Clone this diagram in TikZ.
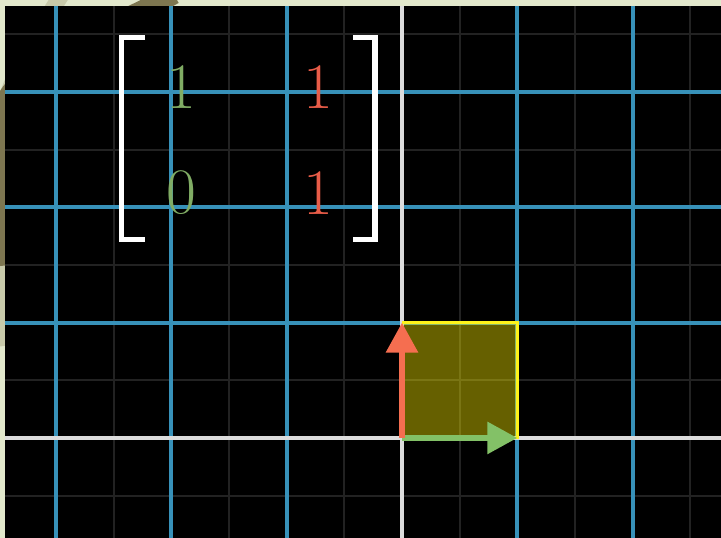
\documentclass[tikz,border=0pt]{standalone}
\usepackage{tikz}
\usetikzlibrary{arrows.meta}
\definecolor{slidebg}{RGB}{226,232,204}
\definecolor{olivedark}{RGB}{125,118,80}
\definecolor{olivelight}{RGB}{200,202,170}
\definecolor{gridblue}{RGB}{55,145,185}
\definecolor{gridgray}{RGB}{34,34,34}
\definecolor{axisgray}{RGB}{220,220,220}
\definecolor{vecgreen}{RGB}{131,193,103}
\definecolor{vecred}{RGB}{245,110,80}
\definecolor{entrygreen}{RGB}{128,172,100}
\definecolor{entryred}{RGB}{232,92,72}

\begin{document}
\begin{tikzpicture}[
    gridmajor/.style={line width=1pt, draw=gridblue},
    gridminor/.style={line width=0.5pt, draw=gridgray},
    axisline/.style={line width=1.2pt, draw=axisgray},
    vec/.style={line width=1.4pt, -{Triangle[length=0.26cm, width=0.27cm]}},
    entry/.style={font=\fontsize{16}{18}\selectfont, inner sep=0pt},
    bracket/.style={line width=1.3pt, draw=white}
]
    \useasboundingbox (-3.487,-0.867) rectangle (2.767,3.799);

    % slide background with its curves
    \fill[slidebg] (-3.487,-0.867) rectangle (2.767,3.799);
    \draw[olivelight, line width=4pt] (-2.95,3.85) .. controls (-3.3,3.3) and (-3.6,2.8) .. (-3.47,2.3)
        .. controls (-3.4,1.7) and (-3.5,1.2) .. (-3.44,0.8);
    \draw[olivedark, line width=5pt] (-1.98,3.85) .. controls (-2.6,3.5) and (-3.6,3.2) .. (-3.49,2.6)
        .. controls (-3.46,2.2) and (-3.44,1.9) .. (-3.40,1.5);

    % black plane
    \fill[black] (-3.443,-0.867) rectangle (2.767,3.747);

    \begin{scope}
        \clip (-3.443,-0.867) rectangle (2.767,3.747);
        % half-unit lines
        \foreach \x in {-2.5,-1.5,-0.5,0.5,1.5,2.5}
            \draw[gridminor] (\x,-0.867) -- (\x,3.747);
        \foreach \y in {-0.5,0.5,1.5,2.5,3.5}
            \draw[gridminor] (-3.443,\y) -- (2.767,\y);
        % unit lines
        \foreach \x in {-3,-2,-1,1,2}
            \draw[gridmajor] (\x,-0.867) -- (\x,3.747);
        \foreach \y in {1,2,3}
            \draw[gridmajor] (-3.443,\y) -- (2.767,\y);
        % axes
        \draw[axisline] (0,-0.867) -- (0,3.747);
        \draw[axisline] (-3.443,0) -- (2.767,0);
    \end{scope}

    % unit square
    \fill[yellow, fill opacity=0.4] (0,0) rectangle (1,1);
    \draw[yellow!90!white, line width=0.6pt] (0,0) -- (1,0) -- (1,1) -- (0,1);

    % basis vectors
    \coordinate (o) at (0,0);
    \coordinate (ihat) at (1,0);
    \coordinate (jhat) at (0,1);
    \draw[vec, vecgreen] (o) -- (ihat);
    \draw[vec, vecred] (o) -- (jhat);

    % matrix
    \node[entry, text=entrygreen] (a11) at (-1.912,3.04) {1};
    \node[entry, text=entryred] (a12) at (-0.724,3.04) {1};
    \node[entry, text=entrygreen] (a21) at (-1.912,2.125) {0};
    \node[entry, text=entryred] (a22) at (-0.724,2.125) {1};
    \draw[bracket] (-2.229,3.474) -- (-2.433,3.474) -- (-2.433,1.722) -- (-2.229,1.722);
    \draw[bracket] (-0.425,3.474) -- (-0.234,3.474) -- (-0.234,1.722) -- (-0.425,1.722);
\end{tikzpicture}
\end{document}
